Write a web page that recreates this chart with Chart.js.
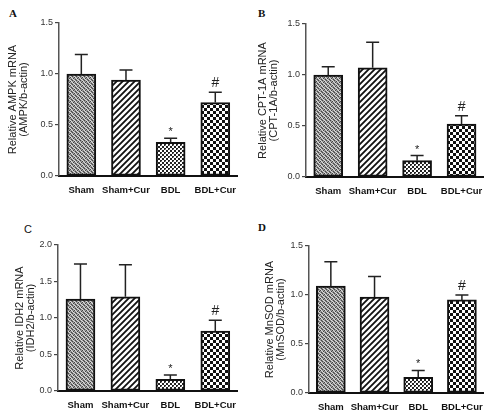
<!DOCTYPE html>
<html>
<head>
<meta charset="utf-8">
<script src="https://cdn.jsdelivr.net/npm/chart.js@4.4.0/dist/chart.umd.min.js"></script>
<style>
  body { margin: 0; background: #fff; width: 492px; height: 411px; position: relative; overflow: hidden; }
  .panel { position: absolute; }
  .tag { position: absolute; font: bold 11px 'Liberation Serif', serif; color: #111; }
</style>
</head>
<body>
<div class="tag" style="left:9px;top:7px">A</div>
<div class="tag" style="left:258px;top:7px">B</div>
<div class="tag" style="left:24px;top:223px;font:11px 'Liberation Sans',sans-serif">C</div>
<div class="tag" style="left:258px;top:221px">D</div>

<div class="panel" style="left:0;top:0;width:246px;height:205px"><canvas id="chartA"></canvas></div>
<div class="panel" style="left:246px;top:0;width:246px;height:205px"><canvas id="chartB"></canvas></div>
<div class="panel" style="left:0;top:205px;width:246px;height:206px"><canvas id="chartC"></canvas></div>
<div class="panel" style="left:246px;top:205px;width:246px;height:206px"><canvas id="chartD"></canvas></div>

<script>
const groups = ['Sham', 'Sham+Cur', 'BDL', 'BDL+Cur'];
const marks = ['', '', '*', '#'];

// mean values and upper error (SEM)
const ampkMean = [1.00, 0.94, 0.33, 0.72];
const ampkErr = [0.19, 0.10, 0.04, 0.10];
const cpt1aMean = [1.00, 1.07, 0.16, 0.52];
const cpt1aErr = [0.08, 0.25, 0.05, 0.08];
const idh2Mean = [1.26, 1.29, 0.16, 0.82];
const idh2Err = [0.48, 0.44, 0.06, 0.15];
const mnsodMean = [1.09, 0.98, 0.16, 0.95];
const mnsodErr = [0.25, 0.21, 0.07, 0.05];

const ticks15 = [0, 0.5, 1.0, 1.5];
const ticks20 = [0, 0.5, 1.0, 1.5, 2.0];

const titleA = ['Relative AMPK mRNA', '(AMPK/b-actin)'];
const titleB = ['Relative CPT-1A mRNA', '(CPT-1A/b-actin)'];
const titleC = ['Relative IDH2 mRNA', '(IDH2/b-actin)'];
const titleD = ['Relative MnSOD mRNA', '(MnSOD/b-actin)'];

const sans = "'Liberation Sans', Arial, sans-serif";

function makePattern(kind) {
    const c = document.createElement('canvas');
    const g = c.getContext('2d');
    if (kind === 'fine') {
        // grey stipple
        c.width = 4; c.height = 4;
        g.fillStyle = '#999'; g.fillRect(0, 0, 4, 4);
        g.fillStyle = '#444'; g.fillRect(0, 0, 1, 1); g.fillRect(2, 1, 1, 1); g.fillRect(1, 2, 1, 1); g.fillRect(3, 3, 1, 1);
        g.fillStyle = '#ddd'; g.fillRect(2, 0, 1, 1); g.fillRect(0, 2, 1, 1); g.fillRect(3, 1, 1, 1); g.fillRect(1, 3, 1, 1);
    } else if (kind === 'hatch') {
        c.width = 6; c.height = 6;
        g.fillStyle = '#fff'; g.fillRect(0, 0, 6, 6);
        g.strokeStyle = '#111'; g.lineWidth = 1.8;
        g.beginPath();
        g.moveTo(-1, 7); g.lineTo(7, -1);
        g.moveTo(-1, 1); g.lineTo(1, -1);
        g.moveTo(5, 7); g.lineTo(7, 5);
        g.stroke();
    } else if (kind === 'small') {
        c.width = 4; c.height = 4;
        g.fillStyle = '#fff'; g.fillRect(0, 0, 4, 4);
        g.fillStyle = '#222'; g.fillRect(0, 0, 2, 2); g.fillRect(2, 2, 2, 2);
        g.fillStyle = '#888'; g.fillRect(1, 1, 1, 1);
    } else {
        c.width = 6; c.height = 6;
        g.fillStyle = '#fff'; g.fillRect(0, 0, 6, 6);
        g.fillStyle = '#111'; g.fillRect(0, 0, 3, 3); g.fillRect(3, 3, 3, 3);
    }
    return g.createPattern(c, 'repeat');
}

const fills = [makePattern('fine'), makePattern('hatch'), makePattern('small'), makePattern('check')];

const errorBars = {
    id: 'errorBars',
    afterDatasetsDraw(chart) {
        const ctx = chart.ctx;
        const meta = chart.getDatasetMeta(0);
        const ds = chart.data.datasets[0];
        const y = chart.scales.y;
        ctx.save();
        ctx.strokeStyle = '#222';
        ctx.lineWidth = 1.5;
        ds.data.forEach((v, i) => {
            const x = meta.data[i].x;
            const top = y.getPixelForValue(v);
            const end = y.getPixelForValue(v + ds.err[i]);
            ctx.beginPath();
            ctx.moveTo(x, top);
            ctx.lineTo(x, end);
            ctx.moveTo(x - 6.5, end);
            ctx.lineTo(x + 6.5, end);
            ctx.stroke();
            if (marks[i]) {
                ctx.fillStyle = '#222';
                ctx.textAlign = 'center';
                ctx.textBaseline = 'middle';
                if (marks[i] === '*') {
                    ctx.font = '11px ' + sans;
                    ctx.fillText('*', x, end - 6);
                } else {
                    ctx.font = '14px ' + sans;
                    ctx.fillText('#', x, end - 9);
                }
            }
        });
        ctx.restore();
    }
};

function drawPanel(id, mean, err, tickVals, title, box) {
    const ctx = document.getElementById(id);
    new Chart(ctx, {
        type: 'bar',
        data: {
            labels: groups,
            datasets: [{
                data: mean,
                err: err,
                backgroundColor: fills,
                borderColor: '#111',
                borderWidth: 2,
                borderSkipped: false,
                barThickness: 29
            }]
        },
        options: {
            responsive: true,
            maintainAspectRatio: false,
            animation: false,
            events: [],
            layout: { padding: { left: 0, top: box.top, right: box.right, bottom: 0 } },
            plugins: { legend: { display: false }, tooltip: { enabled: false } },
            scales: {
                x: {
                    grid: { display: false, drawTicks: false },
                    border: { display: true, color: '#111', width: 2 },
                    ticks: {
                        color: '#111',
                        padding: 9,
                        autoSkip: false,
                        maxRotation: 0,
                        minRotation: 0,
                        font: { family: sans, size: 9.5, weight: 'bold' }
                    },
                    afterFit: s => { s.height = box.xh; }
                },
                y: {
                    min: 0,
                    max: tickVals[tickVals.length - 1],
                    afterBuildTicks: s => { s.ticks = tickVals.map(v => ({ value: v })); },
                    grid: { drawOnChartArea: false, tickLength: 4, color: '#444', lineWidth: 1.2 },
                    border: { display: true, color: '#555', width: 1.5 },
                    ticks: {
                        color: '#333',
                        padding: 2,
                        font: { family: sans, size: 9 },
                        callback: v => Number(v).toFixed(1)
                    },
                    title: {
                        display: true,
                        text: title,
                        color: '#222',
                        padding: { top: box.tp, bottom: 0 },
                        font: { family: sans, size: 11, lineHeight: 1.05 }
                    },
                    afterFit: s => { s.width = box.yw; }
                }
            }
        },
        plugins: [errorBars]
    });
}

drawPanel('chartA', ampkMean, ampkErr, ticks15, titleA, { top: 23, right: 8, xh: 29, yw: 59, tp: 7 });
drawPanel('chartB', cpt1aMean, cpt1aErr, ticks15, titleB, { top: 24, right: 6, xh: 28, yw: 60, tp: 11 });
drawPanel('chartC', idh2Mean, idh2Err, ticks20, titleC, { top: 40, right: 8, xh: 20, yw: 58, tp: 14 });
drawPanel('chartD', mnsodMean, mnsodErr, ticks15, titleD, { top: 41, right: 3, xh: 18, yw: 63, tp: 18 });
</script>
</body>
</html>
